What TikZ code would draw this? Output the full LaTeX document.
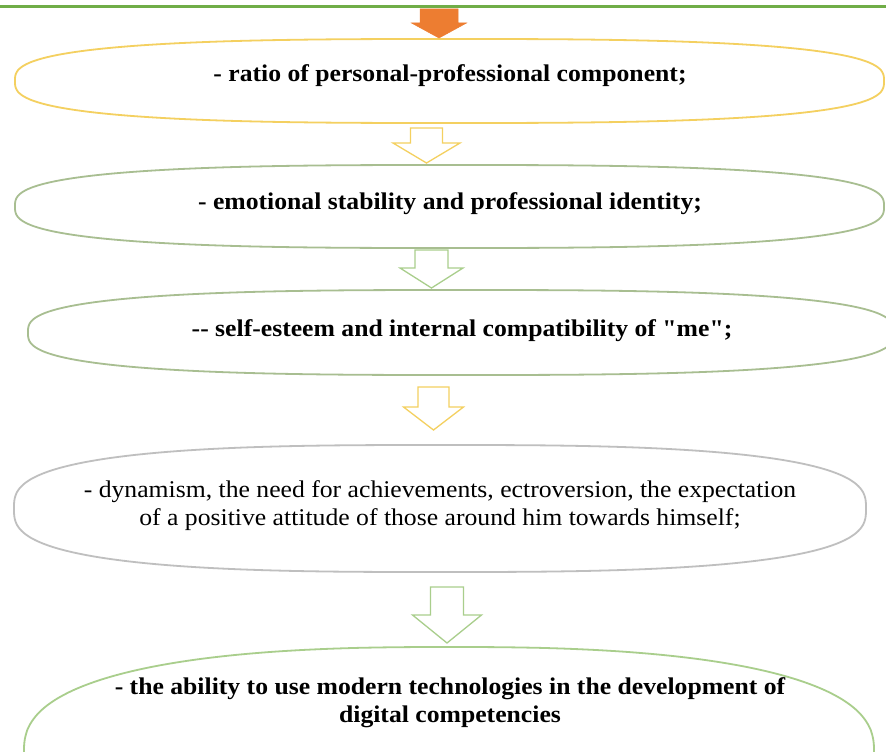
\documentclass[tikz,border=0pt]{standalone}
\usepackage{fontspec}
\setmainfont{Liberation Serif}
\usetikzlibrary{shapes.geometric}
\definecolor{topgreen}{RGB}{112,173,71}
\definecolor{orangeA}{RGB}{237,125,49}
\definecolor{yellowE}{RGB}{244,208,96}
\definecolor{greenE}{RGB}{168,190,145}
\definecolor{greenL}{RGB}{169,206,140}
\definecolor{grayE}{RGB}{191,191,191}
\tikzset{
  ell/.style={line width=1.8pt, line join=round},
  txtb/.style={font=\bfseries\fontsize{24}{28}\selectfont, inner sep=0pt},
  txtr/.style={font=\fontsize{24}{28}\selectfont, inner sep=0pt},
  yarr/.style={draw=yellowE, line width=1.3pt, fill=white, line join=miter},
  garr/.style={draw=greenL, line width=1.3pt, fill=white, line join=miter},
  oarr/.style={fill=orangeA, draw=orangeA, line width=0.5pt},
}
\newcommand\widetext[1]{\scalebox{1.07}[1]{\begin{tabular}{@{}c@{}}#1\end{tabular}}}
% superellipse: style, cx, cy, a, b, exponent
\newcommand\superell[6]{%
  \draw[#1] plot[domain=0:360, samples=361]
    ({#2+#4*(cos(\x)<0?-1:1)*pow(abs(cos(\x))+0.00001,#6)},
     {#3+#5*(sin(\x)<0?-1:1)*pow(abs(sin(\x))+0.00001,#6)}) -- cycle;}
% block arrow: style, centre x, top y, neck y, tip y, shaft half width, head half width
\newcommand\blockarrow[7]{%
  \draw[#1] ({#2-#6},#3) -- ({#2+#6},#3) -- ({#2+#6},#4) -- ({#2+#7},#4) -- (#2,#5) -- ({#2-#7},#4) -- ({#2-#6},#4) -- cycle;}
\begin{document}
\begin{tikzpicture}[x=1pt,y=-1pt]
\useasboundingbox (0,0) rectangle (886,752);
\fill[white] (0,0) rectangle (886,752);
% ellipses
\superell{ell, draw=yellowE}{449.5}{81}{434.5}{42}{0.7}
\superell{ell, draw=greenE}{449.5}{206.5}{434.5}{41.5}{0.7}
\superell{ell, draw=greenE}{461}{332.5}{433}{42.5}{0.7}
\superell{ell, draw=grayE}{440}{508.5}{426}{63.5}{0.7}
\superell{ell, draw=greenL}{449}{752}{425}{105}{0.8}
% texts
\node[txtb] (e1) at (450,76) {\widetext{- ratio of personal-professional component;}};
\node[txtb] (e2) at (450,204) {\widetext{- emotional stability and professional identity;}};
\node[txtb] (e3) at (462,331) {\widetext{-{}- self-esteem and internal compatibility of \textquotedbl me\textquotedbl;}};
\node[txtr] (e4) at (440,506) {\widetext{- dynamism, the need for achievements, ectroversion, the expectation\\of a positive attitude of those around him towards himself;}};
\node[txtb] (e5) at (450,703) {\widetext{- the ability to use modern technologies in the development of\\digital competencies}};
% arrows
\blockarrow{oarr}{439}{9}{23}{38}{19}{27.5}
\blockarrow{yarr}{426.5}{128}{143}{163}{16}{33.5}
\blockarrow{garr}{431.5}{250}{268}{288}{16.5}{31.5}
\blockarrow{yarr}{433.5}{387}{407}{430}{15.5}{30}
\blockarrow{garr}{447}{587}{615}{643}{16.5}{34.5}
% top line
\draw[topgreen, line width=3pt] (0,7) -- (886,7);
\end{tikzpicture}
\end{document}
